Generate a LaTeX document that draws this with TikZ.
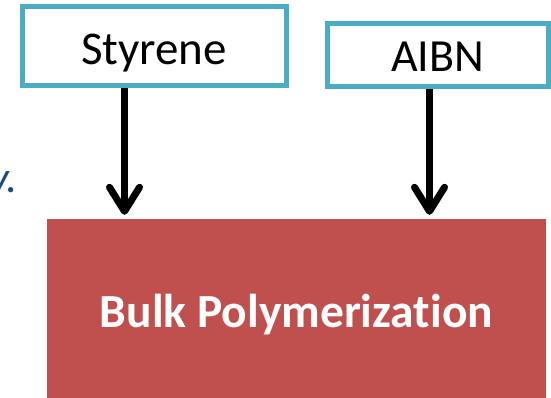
\documentclass[tikz,border=0pt]{standalone}
\usepackage{fontspec}
\setmainfont{Carlito}[Ligatures=NoCommon]
\usetikzlibrary{arrows.meta, positioning, calc}

\definecolor{boxteal}{RGB}{75,172,198}
\definecolor{bulkred}{RGB}{192,80,77}
\definecolor{textblue}{RGB}{31,73,125}

\begin{document}
\begin{tikzpicture}[x=1pt, y=-1pt,
    inbox/.style={draw=boxteal, line width=5pt, fill=white, inner sep=0pt, text depth=0pt},
    bulkbox/.style={fill=bulkred, text=white, inner sep=0pt, font=\fontsize{47.5}{50}\selectfont\bfseries,
        minimum width=499pt, minimum height=191pt, text height=34pt, text depth=9pt},
    flowarrow/.style={line width=7pt, -{Straight Barb[length=24pt, width=30pt, round]}}]

    % =================================================================
    % 1. KHUNG HINH
    % =================================================================
    \useasboundingbox (0,0) rectangle (551,398);
    \clip (0,0) rectangle (551,398);

    % =================================================================
    % 2. CAC KHOI
    % =================================================================
    \node[inbox, minimum width=264pt, minimum height=79pt, text height=38pt,
        font=\fontsize{47}{50}\selectfont] (styrene) at (154,46) {Styrene};
    \node[inbox, minimum width=221.5pt, minimum height=63.5pt, text height=33.5pt,
        font=\fontsize{46}{50}\selectfont] (aibn) at (437.75,55.25) {AIBN};
    \node[bulkbox] (bulk) at (296.5,314.5) {Bulk Polymerization};

    % Phan chu bi cat o mep trai
    \node[anchor=base east, text=textblue, font=\fontsize{44}{48}\selectfont\itshape,
        inner sep=0pt] (tail) at (18,193) {y.};

    % =================================================================
    % 3. MUI TEN
    % =================================================================
    \draw[flowarrow, shorten >=4pt] ([xshift=-29.5pt]styrene.south)
        -- ([xshift=-29.5pt]styrene.south |- bulk.north);
    \draw[flowarrow, shorten >=4pt] ([xshift=-8.25pt]aibn.south)
        -- ([xshift=-8.25pt]aibn.south |- bulk.north);

\end{tikzpicture}
\end{document}
